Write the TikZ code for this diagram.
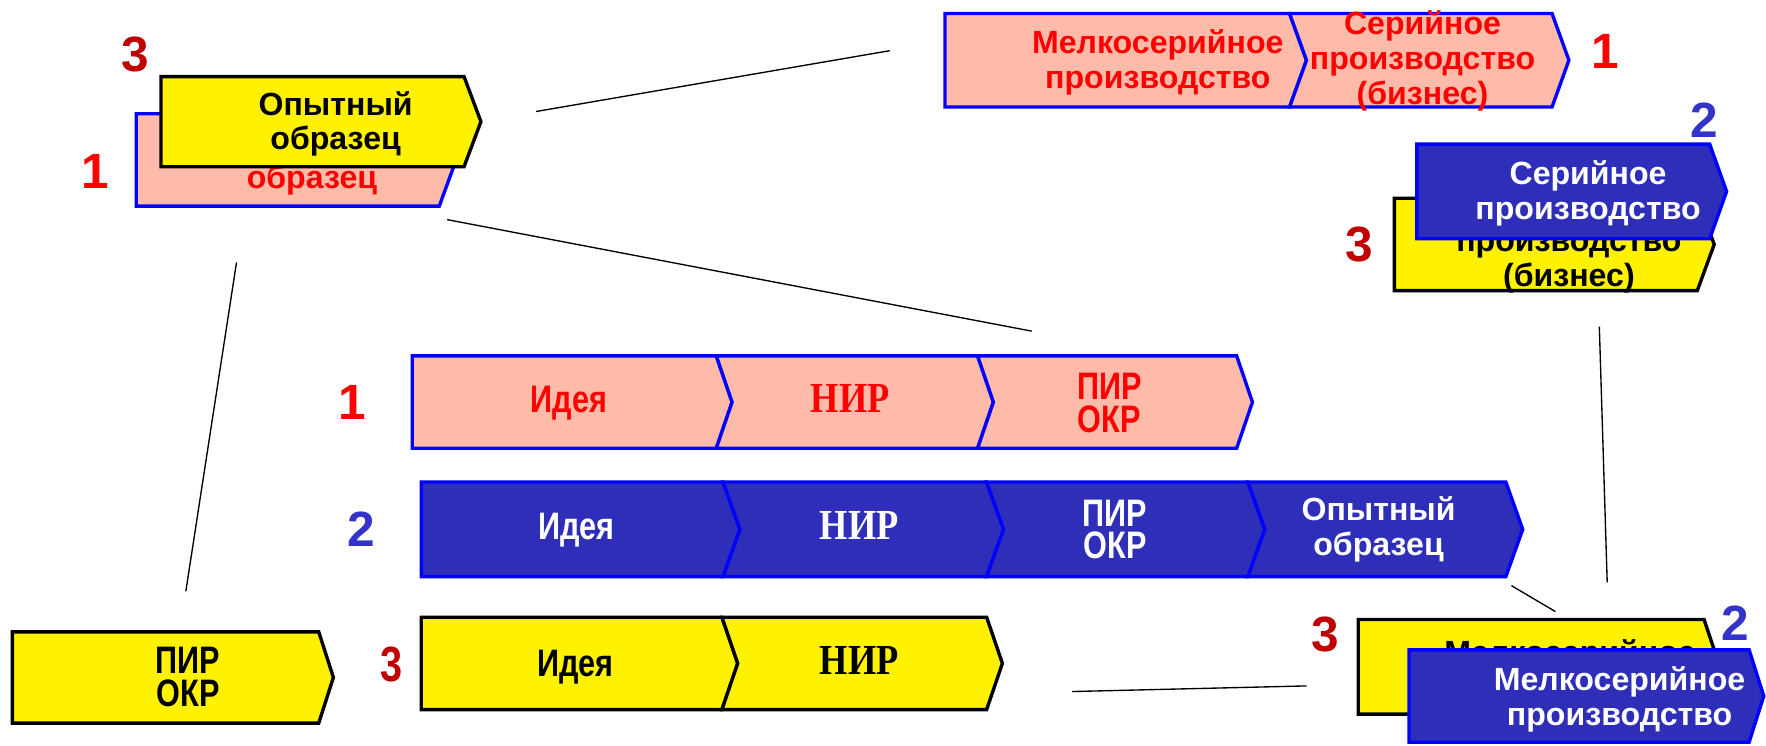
\documentclass[tikz,border=0pt]{standalone}
\usepackage{fontspec}
\setmainfont{Liberation Sans}
\newfontfamily\serifb[FakeStretch=0.85]{Liberation Serif}
\newfontfamily\condb[FakeStretch=0.8]{Liberation Sans}
\definecolor{pinkf}{HTML}{FFBBAA}
\definecolor{bluef}{HTML}{2E2EB8}
\definecolor{bord}{HTML}{0000FF}
\definecolor{dred}{HTML}{C00000}
\definecolor{numblue}{HTML}{3333CC}
\newcommand\chevbox[7]{% style, left x, right corner x, top y, bottom y, left notch, tip
  \draw[#1] (#2,#4) -- (#3,#4) -- ({#3+#7},{(#4+#5)/2}) -- (#3,#5) -- (#2,#5) -- ({#2+#6},{(#4+#5)/2}) -- cycle;}
\tikzset{
  pinkbox/.style={fill=pinkf, draw=bord, line width=3pt},
  bluebox/.style={fill=bluef, draw=bord, line width=3pt},
  yelbox/.style={fill=yellow, draw=black, line width=3pt},
  lbl/.style={font=\bfseries\fontsize{28.5}{31}\selectfont, align=center, inner sep=0pt},
  clbl/.style={font=\condb\bfseries\fontsize{34}{29}\selectfont, align=center, inner sep=0pt},
  slbl/.style={font=\serifb\bfseries\fontsize{38}{38}\selectfont, align=center, inner sep=0pt},
  num/.style={font=\bfseries\fontsize{44}{44}\selectfont, inner sep=0pt},
  cnum/.style={font=\condb\bfseries\fontsize{44}{44}\selectfont, inner sep=0pt},
  conn/.style={draw=black, line width=1.2pt}
}
\begin{document}
\begin{tikzpicture}[x=1pt,y=-1pt]
\useasboundingbox (0,0) rectangle (1568,662);
% ---- top-left group
\chevbox{pinkbox}{121}{390}{101}{183}{0}{15}
\node[lbl, text=red] (tlp) at (277,144) {Опытный\\образец};
\chevbox{yelbox}{143}{412}{68}{148}{0}{15}
\node[lbl] (tly) at (298,110) {Опытный\\образец};
\node[num, text=dred] (n3a) at (120,48) {3};
\node[num, text=red] (n1a) at (85,152) {1};
% ---- top-right pink row
\chevbox{pinkbox}{839}{1145}{12}{95}{0}{15}
\chevbox{pinkbox}{1145}{1378}{12}{95}{15}{15}
\node[lbl, text=red] (trA) at (1028,55) {Мелкосерийное\\производство};
\node[lbl, text=red] (trB) at (1263,54) {Серийное\\производство\\(бизнес)};
\node[num, text=red] (n1b) at (1425,46) {1};
% ---- right group
\chevbox{yelbox}{1238}{1507}{176}{258}{0}{15}
\node[lbl] (ry) at (1393,216) {Серийное\\производство\\(бизнес)};
\chevbox{bluebox}{1258}{1518}{128}{212}{0}{15}
\node[lbl, text=white] (rb) at (1410,172) {Серийное\\производство};
\node[num, text=numblue] (n2a) at (1513,107) {2};
\node[num, text=dred] (n3b) at (1207,217) {3};
% ---- row 1
\chevbox{pinkbox}{366}{636}{316}{398}{0}{14}
\chevbox{pinkbox}{636}{868}{316}{398}{14}{14}
\chevbox{pinkbox}{868}{1098}{316}{398}{14}{14}
\node[clbl, text=red] (r1a) at (505,358) {Идея};
\node[slbl, text=red] (r1b) at (755,354) {НИР};
\node[clbl, text=red] (r1c) at (985,358) {ПИР\\ОКР};
\node[num, text=red] (n1c) at (313,357) {1};
% ---- row 2
\chevbox{bluebox}{374}{642}{428}{512}{0}{15}
\chevbox{bluebox}{642}{876}{428}{512}{15}{15}
\chevbox{bluebox}{876}{1108}{428}{512}{15}{15}
\chevbox{bluebox}{1108}{1337}{428}{512}{15}{15}
\node[clbl, text=white] (r2a) at (512,471) {Идея};
\node[slbl, text=white] (r2b) at (763,467) {НИР};
\node[clbl, text=white] (r2c) at (990,470) {ПИР\\ОКР};
\node[lbl, text=white] (r2d) at (1224,470) {Опытный\\образец};
\node[num, text=numblue] (n2b) at (321,470) {2};
% ---- row 3
\chevbox{yelbox}{374}{641}{548}{630}{0}{14}
\chevbox{yelbox}{641}{876}{548}{630}{14}{14}
\node[clbl] (r3a) at (511,592) {Идея};
\node[slbl] (r3b) at (763,586) {НИР};
\node[cnum, text=dred] (n3c) at (348,590) {3};
% ---- bottom-left
\chevbox{yelbox}{11}{283}{561}{642}{0}{13}
\node[clbl] (bl) at (167,601) {ПИР\\ОКР};
% ---- bottom-right
\chevbox{yelbox}{1206}{1513}{550}{634}{0}{14}
\node[lbl] (bry) at (1394,597) {Мелкосерийное\\производство};
\chevbox{bluebox}{1251}{1553}{577}{659}{0}{13}
\node[lbl, text=white] (brb) at (1438,621) {Мелкосерийное\\производство};
\node[num, text=dred] (n3d) at (1177,563) {3};
\node[num, text=numblue] (n2c) at (1541,553) {2};
% ---- connectors
\coordinate (c1a) at (476,99);  \coordinate (c1b) at (790,45);
\coordinate (c2a) at (397,195); \coordinate (c2b) at (916,294);
\coordinate (c3a) at (210,233); \coordinate (c3b) at (165,525);
\coordinate (c4a) at (1420,290);\coordinate (c4b) at (1427,517);
\coordinate (c5a) at (1342,520);\coordinate (c5b) at (1381,543);
\coordinate (c6a) at (952,614); \coordinate (c6b) at (1160,609);
\draw[conn] (c1a) -- (c1b);
\draw[conn] (c2a) -- (c2b);
\draw[conn] (c3a) -- (c3b);
\draw[conn] (c4a) -- (c4b);
\draw[conn] (c5a) -- (c5b);
\draw[conn] (c6a) -- (c6b);
\end{tikzpicture}
\end{document}
